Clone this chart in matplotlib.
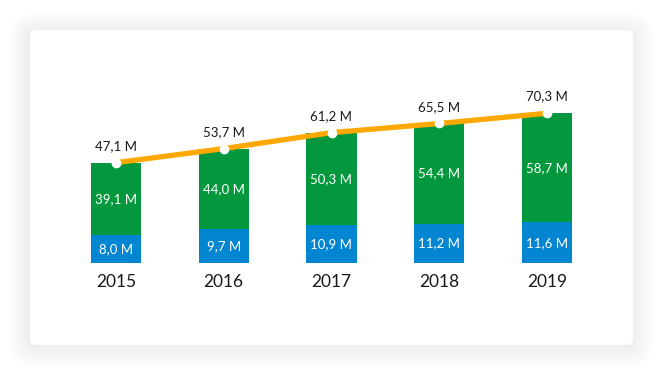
import matplotlib.pyplot as plt
from matplotlib.patches import FancyBboxPatch
import numpy as np

years = ['2015', '2016', '2017', '2018', '2019']
blue_vals = [8.0, 9.7, 10.9, 11.2, 11.6]
green_vals = [39.1, 44.0, 50.3, 54.4, 58.7]
totals = [47.1, 53.7, 61.2, 65.5, 70.3]

GREEN = '#03973E'
BLUE = '#0386D2'
ORANGE = '#FFA800'

plt.rcParams['font.family'] = ['Lato', 'DejaVu Sans']


def fmt(v):
    return f'{v:.1f}'.replace('.', ',') + ' M'


fig = plt.figure(figsize=(6.64, 3.75), dpi=100)
fig.patch.set_facecolor('white')

# card with soft shadow (pixel coords)
bg = fig.add_axes([0, 0, 1, 1])
bg.set_xlim(0, 664)
bg.set_ylim(375, 0)
bg.axis('off')
for i in range(18):
    pad = i * 1.3
    bg.add_patch(FancyBboxPatch((30 - pad, 34 - pad), 603 + 2 * pad, 312 + 2 * pad,
                                boxstyle=f'round,pad=0,rounding_size={6 + pad}',
                                fc='black', ec='none', alpha=0.005))
bg.add_patch(FancyBboxPatch((30, 30), 603, 315, boxstyle='round,pad=0,rounding_size=6',
                            fc='white', ec='none'))

# main axis: totals (green bars), twin axis: blue bars
ax = fig.add_axes([62 / 664, (375 - 263) / 375, 539 / 664, 203 / 375])
ax.set_xlim(-0.5, 4.5)
ax.set_ylim(0, 95.3)
ax.axis('off')
ax2 = ax.twinx()
ax2.set_ylim(0, 58)
ax2.axis('off')

x = np.arange(len(years))
w = 0.464
ax.bar(x, totals, width=w, color=GREEN, zorder=1)
ax2.bar(x, blue_vals, width=w, color=BLUE, zorder=1)

for i in x:
    b = blue_vals[i]
    ax2.text(i, b / 2, fmt(b), ha='center', va='center', color='white', fontsize=9.5)
    btop = ax.transData.inverted().transform(ax2.transData.transform((i, b)))[1]
    ax.text(i, (btop + totals[i]) / 2, fmt(green_vals[i]), ha='center', va='center',
            color='white', fontsize=9.5)
    ax.annotate(fmt(totals[i]), (i, totals[i]), xytext=(0, 12), textcoords='offset points',
                ha='center', va='center', color='#1a1a1a', fontsize=9.5)
    ax.annotate(years[i], (i, 0), xytext=(0, -14), textcoords='offset points',
                ha='center', va='center', color='#1a1a1a', fontsize=12.5)

# line on top of both bar axes
ax3 = fig.add_axes(ax.get_position(), sharex=ax, sharey=ax)
ax3.axis('off')
ax3.plot(x, totals, color=ORANGE, lw=3.8, marker='o', ms=6, mfc='white', mec='white',
         solid_capstyle='round', clip_on=False, zorder=5)

fig.savefig('out.png', dpi=100, facecolor='white')
